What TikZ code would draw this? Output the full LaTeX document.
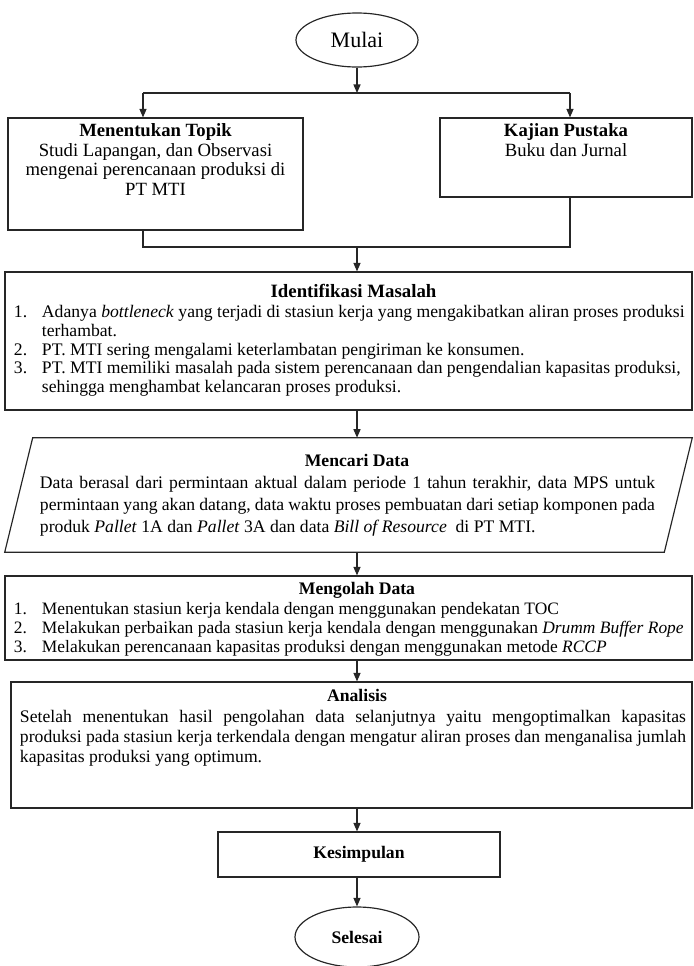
\documentclass[tikz,border=0pt]{standalone}
\usepackage{fontspec}
\setmainfont{Liberation Serif}
\usetikzlibrary{arrows.meta,shapes.geometric}
\newlength\upx
\setlength\upx{0.68pt}
\newcommand\boxtxt[3]{\parbox[c][#2\upx][t]{#1\upx}{#3}}
\newcommand\litem[2]{\par\noindent\hangindent=28\upx\hangafter=1\makebox[28\upx][l]{#1}#2\par}
\begin{document}
\begin{tikzpicture}[x=0.68pt,y=-0.68pt,
  font=\fontsize{12pt}{13.4pt}\selectfont,
  line/.style={draw=black!85,line width=0.8pt},
  arr/.style={line,-{Triangle[length=5.8pt,width=4.8pt]}},
  box/.style={line,rectangle,inner sep=0pt},
  term/.style={line,ellipse,inner sep=0pt},
  plain/.style={rectangle,inner sep=0pt}]
\useasboundingbox (0,0) rectangle (694,966);

% start
\node[term,minimum width=122\upx,minimum height=54\upx] (mulai) at (357,40) {\fontsize{15pt}{16pt}\selectfont Mulai};

% first row
\node[box] (topik) at (155.5,174) {\boxtxt{295}{112}{\fontsize{12.7pt}{13.2pt}\selectfont\centering\vspace*{6\upx}\textbf{Menentukan Topik}\\Studi Lapangan, dan Observasi\\mengenai perencanaan produksi di\\PT MTI\par}};
\node[box] (kajian) at (566,157.5) {\boxtxt{252}{79}{\fontsize{12.7pt}{13.2pt}\selectfont\centering\vspace*{6\upx}\textbf{Kajian Pustaka}\\Buku dan Jurnal\par}};

% identifikasi
\node[box] (ident) at (348.5,341) {\boxtxt{687}{138}{\vspace*{12\upx}{\centering\hspace*{10\upx}\fontsize{12.8pt}{13pt}\selectfont\textbf{Identifikasi Masalah}\par}\vspace{2\upx}
\fontsize{12pt}{12.7pt}\selectfont
\raggedright\leftskip=9\upx\rightskip=-20\upx plus 1fil
\litem{1.}{Adanya \textit{bottleneck} yang terjadi di stasiun kerja yang mengakibatkan aliran proses produksi\newline terhambat.}
\litem{2.}{PT. MTI sering mengalami keterlambatan pengiriman ke konsumen.}
\litem{3.}{PT. MTI memiliki masalah pada sistem perencanaan dan pengendalian kapasitas produksi,\newline sehingga menghambat kelancaran proses produksi.}}};

% mencari data (parallelogram)
\node[plain] (mcd) at (348.5,495) {\boxtxt{659}{114}{\vspace*{16\upx}{\centering\hspace*{17\upx}\textbf{Mencari Data}\par}\vspace{3\upx}
\noindent\hspace*{21\upx}\parbox[t]{615\upx}{\fontsize{12pt}{14.8pt}\selectfont Data berasal dari permintaan aktual dalam periode 1 tahun terakhir, data MPS untuk\linebreak permintaan yang akan datang, data waktu proses pembuatan dari setiap komponen pada\linebreak produk \textit{Pallet} 1A dan \textit{Pallet} 3A dan data \textit{Bill of Resource}~ di PT MTI.\par}}};
\draw[line] ([xshift=14\upx]mcd.north west) -- ([xshift=14\upx]mcd.north east) -- ([xshift=-14\upx]mcd.south east) -- ([xshift=-14\upx]mcd.south west) -- cycle;

% mengolah data
\node[box] (olah) at (348.5,618) {\boxtxt{687}{84}{\vspace*{6\upx}{\centering\hspace*{17\upx}\textbf{Mengolah Data}\par}\vspace{1\upx}
\fontsize{11.85pt}{12.9pt}\selectfont
\raggedright\leftskip=9\upx\rightskip=-20\upx plus 1fil
\litem{1.}{Menentukan stasiun kerja kendala dengan menggunakan pendekatan TOC}
\litem{2.}{Melakukan perbaikan pada stasiun kerja kendala dengan menggunakan \textit{Drumm Buffer Rope}}
\litem{3.}{Melakukan perencanaan kapasitas produksi dengan menggunakan metode \textit{RCCP}}}};

% analisis
\node[box] (anal) at (351.5,745) {\boxtxt{681}{126}{\vspace*{7\upx}{\centering\hspace*{11\upx}\textbf{Analisis}\par}\vspace{2\upx}
\noindent\hspace*{9\upx}\parbox[t]{666\upx}{\fontsize{12pt}{13.3pt}\selectfont Setelah menentukan hasil pengolahan data selanjutnya yaitu mengoptimalkan kapasitas\linebreak produksi pada stasiun kerja terkendala dengan mengatur aliran proses dan menganalisa jumlah\linebreak kapasitas produksi yang optimum.\par}}};

% kesimpulan and end
\node[box,minimum width=282\upx,minimum height=45\upx] (kes) at (359,854.5) {\textbf{Kesimpulan}};
\node[term,minimum width=124\upx,minimum height=60\upx] (sel) at (357,937) {\textbf{Selesai}};

% connectors
\coordinate (h0) at (357,93);
\coordinate (hL) at (143,93);
\coordinate (hR) at (570,93);
\coordinate (jL) at (143,247);
\coordinate (jR) at (570,247);
\coordinate (j0) at (357,247);
\draw[arr] (mulai.south) -- (h0);
\draw[line] (hL) -- (hR);
\draw[arr] (hL) -- (hL |- topik.north);
\draw[arr] (hR) -- (hR |- kajian.north);
\draw[line] (jL |- topik.south) -- (jL) -- (jR) -- (jR |- kajian.south);
\draw[arr] (j0) -- (j0 |- ident.north);
\draw[arr] (j0 |- ident.south) -- (j0 |- mcd.north);
\draw[arr] (j0 |- mcd.south) -- (j0 |- olah.north);
\draw[arr] (j0 |- olah.south) -- (j0 |- anal.north);
\draw[arr] (j0 |- anal.south) -- (j0 |- kes.north);
\draw[arr] (j0 |- kes.south) -- (sel.north);
\end{tikzpicture}
\end{document}
